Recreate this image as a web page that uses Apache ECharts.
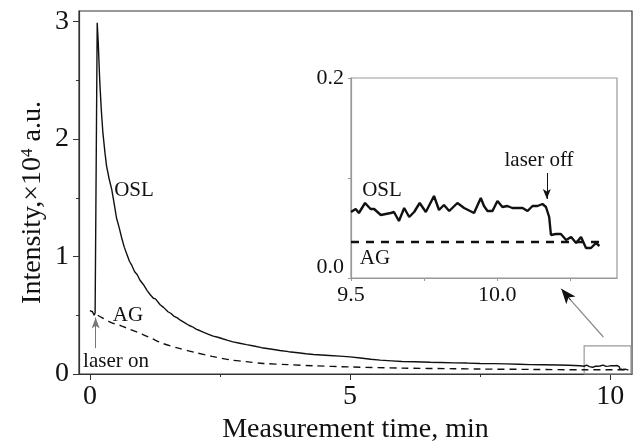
<!DOCTYPE html>
<html>
<head>
<meta charset="utf-8">
<script src="https://cdn.jsdelivr.net/npm/echarts@6/dist/echarts.min.js"></script>
<style>
html, body { margin: 0; background: #fff; }
#chart { width: 637px; height: 441px; }
</style>
</head>
<body>
<div id="chart"></div>
<script>
// OSL signal, time (min) vs intensity (x10^4 a.u.), up to the zoomed window
var oslMain = [
	[0.00, 0.54], [0.05, 0.53], [0.08, 0.50], [0.10, 0.52], [0.14, 2.99], [0.16, 2.82],
	[0.19, 2.48], [0.22, 2.24], [0.25, 2.05], [0.29, 1.88], [0.32, 1.77], [0.37, 1.66],
	[0.42, 1.57], [0.47, 1.44], [0.51, 1.33], [0.56, 1.25], [0.61, 1.16], [0.66, 1.08],
	[0.71, 1.02], [0.76, 0.96], [0.81, 0.92], [0.86, 0.87], [0.91, 0.845], [0.96, 0.80],
	[1.03, 0.76], [1.10, 0.71], [1.16, 0.675], [1.22, 0.645], [1.26, 0.64], [1.28, 0.625],
	[1.35, 0.59], [1.42, 0.565], [1.50, 0.53], [1.56, 0.515], [1.62, 0.49], [1.68, 0.478],
	[1.73, 0.46], [1.81, 0.44], [1.90, 0.415], [1.97, 0.402], [2.05, 0.38], [2.12, 0.368],
	[2.20, 0.352], [2.28, 0.338], [2.37, 0.322], [2.46, 0.313], [2.55, 0.30], [2.65, 0.286],
	[2.75, 0.274], [2.88, 0.262], [3.01, 0.25], [3.15, 0.238], [3.30, 0.224], [3.47, 0.213],
	[3.65, 0.20], [3.82, 0.19], [4.00, 0.181], [4.15, 0.172], [4.30, 0.166], [4.45, 0.162],
	[4.60, 0.158], [4.80, 0.152], [5.00, 0.146], [5.20, 0.136], [5.40, 0.126], [5.58, 0.118],
	[5.80, 0.112], [6.00, 0.106], [6.25, 0.104], [6.54, 0.10], [6.75, 0.098], [7.00, 0.095],
	[7.25, 0.093], [7.50, 0.09], [7.75, 0.088], [8.00, 0.086], [8.25, 0.083], [8.46, 0.08],
	[8.70, 0.079], [9.00, 0.076], [9.20, 0.074], [9.42, 0.07]
];
// OSL signal inside the zoomed window (9.5 - 10.35 min)
var oslTail = [
	[9.500, 0.066], [9.516, 0.069], [9.527, 0.065], [9.548, 0.075], [9.567, 0.069], [9.579, 0.069],
	[9.602, 0.063], [9.636, 0.065], [9.647, 0.066], [9.664, 0.057], [9.682, 0.070], [9.699, 0.061],
	[9.716, 0.066], [9.735, 0.075], [9.756, 0.066], [9.784, 0.082], [9.801, 0.068], [9.818, 0.073],
	[9.836, 0.067], [9.864, 0.075], [9.887, 0.070], [9.921, 0.065], [9.944, 0.080], [9.955, 0.072],
	[9.967, 0.067], [9.984, 0.067], [10.001, 0.077], [10.018, 0.071], [10.035, 0.072], [10.052, 0.070],
	[10.087, 0.070], [10.104, 0.067], [10.121, 0.072], [10.138, 0.072], [10.155, 0.074], [10.167, 0.071],
	[10.178, 0.061], [10.184, 0.043], [10.201, 0.044], [10.218, 0.044], [10.236, 0.038], [10.253, 0.041],
	[10.270, 0.035], [10.287, 0.041], [10.304, 0.030], [10.321, 0.030], [10.338, 0.035], [10.350, 0.032]
];
// afterglow (AG)
var agMain = [
	[0.15, 0.50], [0.23, 0.48], [0.40, 0.44], [0.60, 0.41], [0.77, 0.38], [1.00, 0.34],
	[1.20, 0.30], [1.40, 0.26], [1.70, 0.22], [2.05, 0.18], [2.35, 0.15], [2.70, 0.12],
	[3.00, 0.105], [3.33, 0.09], [3.80, 0.08], [4.30, 0.07], [5.00, 0.06], [6.00, 0.05],
	[7.00, 0.045], [7.50, 0.042], [8.50, 0.039], [9.50, 0.036], [10.35, 0.036]
];
var agInset = [[9.50, 0.036], [10.356, 0.036]];

var mainXLabels = [0, 5, 10];
var mainXMinor = [2.5, 7.5];
var mainYLabels = [0, 1, 2, 3];
var mainYMinor = [0.5, 1.5, 2.5];
var insetXLabels = [9.5, 10.0];
var insetXTicks = [9.5, 9.75, 10.0, 10.25];
var insetYLabels = [0, 0.2];
var insetYTicks = [0, 0.1, 0.2];

var FONT = '"Liberation Serif", "DejaVu Serif", serif';
var INK = '#111';

var chart = echarts.init(document.getElementById('chart'));

function txt(s, x, y, size) {
	return {
		type: 'text', z: 50,
		style: { text: s, x: x, y: y, fill: INK, font: size + 'px ' + FONT, align: 'center', verticalAlign: 'middle' }
	};
}

var option = {
	backgroundColor: '#fff',
	animation: false,
	grid: [
		{ left: 79, right: 5, top: 11, bottom: 67, outerBoundsMode: 'none', containLabel: false,
		  show: true, borderColor: '#333', borderWidth: 1.2 },
		{ left: 351, right: 20, top: 78, bottom: 163, outerBoundsMode: 'none', containLabel: false,
		  show: true, borderColor: '#999', borderWidth: 1.2, backgroundColor: '#fff' }
	],
	xAxis: [
		{
			gridIndex: 0, type: 'value', min: -0.21, max: 10.42, position: 'bottom',
			name: 'Measurement time, min', nameLocation: 'middle', nameGap: 42, nameMoveOverlap: false,
			nameTextStyle: { fontFamily: FONT, fontSize: 28, color: INK },
			axisLine: { show: true, onZero: false, lineStyle: { color: '#333', width: 1.2 } },
			axisTick: { show: true, customValues: mainXLabels, length: 6, lineStyle: { color: '#333' } },
			axisLabel: { customValues: mainXLabels, fontFamily: FONT, fontSize: 28, color: INK, margin: 9 },
			splitLine: { show: false }
		},
		{
			gridIndex: 0, type: 'value', min: -0.21, max: 10.42, position: 'bottom',
			axisLine: { show: false, onZero: false },
			axisTick: { show: true, customValues: mainXMinor, length: 3, lineStyle: { color: '#333' } },
			axisLabel: { show: false },
			splitLine: { show: false }
		},
		{
			gridIndex: 1, type: 'value', min: 9.5, max: 10.41, position: 'bottom',
			axisLine: { show: true, onZero: false, lineStyle: { color: '#999', width: 1.2 } },
			axisTick: { show: true, customValues: insetXTicks, length: 3, lineStyle: { color: '#999' } },
			axisLabel: {
				customValues: insetXLabels, fontFamily: FONT, fontSize: 22, color: INK, margin: 6,
				formatter: function (v) { return v.toFixed(1); }
			},
			splitLine: { show: false }
		}
	],
	yAxis: [
		{
			gridIndex: 0, type: 'value', min: 0, max: 3.09, position: 'left',
			name: 'Intensity,×10{sup|4} a.u.', nameLocation: 'middle', nameGap: 32, nameMoveOverlap: false,
			nameTextStyle: {
				fontFamily: FONT, fontSize: 28, color: INK, padding: [0, 20, 0, 0],
				rich: { sup: { fontFamily: FONT, fontSize: 17, color: INK, verticalAlign: 'top', lineHeight: 28, padding: [0, 0, 14, 0] } }
			},
			axisLine: { show: true, onZero: false, lineStyle: { color: '#333', width: 1.2 } },
			axisTick: { show: true, customValues: mainYLabels, length: 6, lineStyle: { color: '#333' } },
			axisLabel: { customValues: mainYLabels, fontFamily: FONT, fontSize: 28, color: INK, margin: 10 },
			splitLine: { show: false }
		},
		{
			gridIndex: 0, type: 'value', min: 0, max: 3.09, position: 'left',
			axisLine: { show: false, onZero: false },
			axisTick: { show: true, customValues: mainYMinor, length: 3, lineStyle: { color: '#333' } },
			axisLabel: { show: false },
			splitLine: { show: false }
		},
		{
			gridIndex: 1, type: 'value', min: 0, max: 0.2, position: 'left',
			axisLine: { show: true, onZero: false, lineStyle: { color: '#999', width: 1.2 } },
			axisTick: { show: true, customValues: insetYTicks, length: 3, lineStyle: { color: '#999' } },
			axisLabel: {
				customValues: insetYLabels, fontFamily: FONT, fontSize: 22, color: INK, margin: 7,
				verticalAlignMinLabel: 'bottom',
				formatter: function (v) { return v.toFixed(1); }
			},
			splitLine: { show: false }
		}
	],
	series: [
		{
			name: 'OSL', type: 'line', xAxisIndex: 0, yAxisIndex: 0,
			data: oslMain.concat(oslTail), showSymbol: false, symbol: 'none',
			lineStyle: { color: INK, width: 1.4 },
			markArea: {
				silent: true,
				itemStyle: { color: 'rgba(0,0,0,0)', borderColor: '#999', borderWidth: 1.2 },
				data: [[{ coord: [9.5, 0] }, { coord: [10.4, 0.24] }]]
			},
			markLine: {
				silent: true, symbol: ['none', 'none'], label: { show: false },
				lineStyle: { type: 'solid' },
				data: [
					// laser on
					[{ coord: [0.11, 0.22], lineStyle: { color: '#777', width: 1 } },
					 { coord: [0.11, 0.48], symbol: 'arrow', symbolSize: [6, 11] }],
					// pointer from the small box to the inset
					[{ coord: [9.87, 0.315], lineStyle: { color: '#888', width: 1.2 } },
					 { coord: [9.22, 0.64] }],
					[{ coord: [9.24, 0.63], lineStyle: { color: INK, width: 1 } },
					 { coord: [9.06, 0.725], symbol: 'arrow', symbolSize: [9, 15] }]
				]
			}
		},
		{
			name: 'AG', type: 'line', xAxisIndex: 0, yAxisIndex: 0,
			data: agMain, showSymbol: false, symbol: 'none', smooth: 0.3,
			lineStyle: { color: INK, width: 1.4, type: [7, 5] }
		},
		{
			name: 'OSL inset', type: 'line', xAxisIndex: 2, yAxisIndex: 2,
			data: oslTail, showSymbol: false, symbol: 'none', z: 5,
			lineStyle: { color: INK, width: 2.4 },
			markLine: {
				silent: true, symbol: ['none', 'none'], label: { show: false },
				data: [
					[{ coord: [10.17, 0.105], lineStyle: { color: INK, width: 1, type: 'solid' } },
					 { coord: [10.17, 0.079], symbol: 'arrow', symbolSize: [6, 10] }]
				]
			}
		},
		{
			name: 'AG inset', type: 'line', xAxisIndex: 2, yAxisIndex: 2,
			data: agInset, showSymbol: false, symbol: 'none', z: 5,
			lineStyle: { color: INK, width: 2.4, type: [8, 7] }
		}
	],
	graphic: [
		txt('OSL', 134, 190, 21),
		txt('AG', 128, 315, 21),
		txt('laser on', 116, 361, 21),
		txt('OSL', 382, 190, 21),
		txt('AG', 375, 258, 21),
		txt('laser off', 539, 160, 21)
	]
};
chart.setOption(option);
</script>
</body>
</html>
